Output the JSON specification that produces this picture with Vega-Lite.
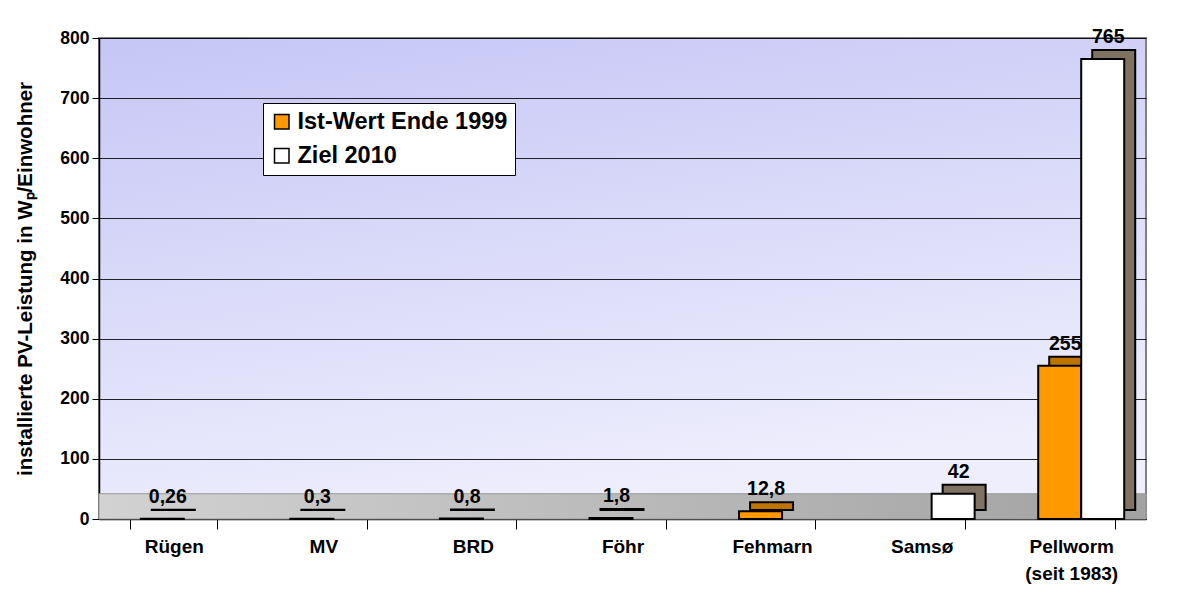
{
  "$schema": "https://vega.github.io/schema/vega-lite/v6.json",
  "width": 1047,
  "height": 481,
  "autosize": "none",
  "padding": {"left": 99, "top": 38, "right": 34, "bottom": 72},
  "background": "#ffffff",
  "config": {
    "font": "Liberation Sans",
    "view": {
      "stroke": "#808080",
      "strokeWidth": 2,
      "fill": {"gradient": "linear", "x1": 0, "y1": 0, "x2": 0.3, "y2": 1, "stops": [{"offset": 0, "color": "#c6c6f6"}, {"offset": 1, "color": "#eeeefd"}]}
    },
    "axisX": {
      "labelAngle": 0, "labelFont": "Liberation Sans", "labelFontSize": 19, "labelFontWeight": "bold",
      "labelColor": "#000", "labelLineHeight": 27,
      "tickBand": "extent", "tickSize": 10, "tickColor": "#000", "labelPadding": 8,
      "domainColor": "#000", "domainWidth": 1.5, "grid": false
    },
    "axisY": {
      "labelFont": "Liberation Sans", "labelFontSize": 17.5, "labelFontWeight": "bold", "labelColor": "#000",
      "titleFont": "Liberation Sans", "titleFontSize": 20.5, "titleFontWeight": "bold", "titleColor": "#000",
      "titlePadding": 24, "tickSize": 7, "tickColor": "#000", "labelPadding": 3,
      "domainColor": "#000", "domainWidth": 1.5,
      "grid": true, "gridColor": "#000", "gridWidth": 1, "gridOpacity": 0.85
    }
  },
  "datasets": {
    "pv": [
      {"ort": "Rügen", "series": "Ist-Wert Ende 1999", "wert": 0.26, "label": "0,26"},
      {"ort": "MV", "series": "Ist-Wert Ende 1999", "wert": 0.3, "label": "0,3"},
      {"ort": "BRD", "series": "Ist-Wert Ende 1999", "wert": 0.8, "label": "0,8"},
      {"ort": "Föhr", "series": "Ist-Wert Ende 1999", "wert": 1.8, "label": "1,8"},
      {"ort": "Fehmarn", "series": "Ist-Wert Ende 1999", "wert": 12.8, "label": "12,8"},
      {"ort": "Samsø", "series": "Ziel 2010", "wert": 42, "label": "42"},
      {"ort": "Pellworm|(seit 1983)", "series": "Ist-Wert Ende 1999", "wert": 255, "label": "255"},
      {"ort": "Pellworm|(seit 1983)", "series": "Ziel 2010", "wert": 765, "label": "765"}
    ],
    "floor": [{"part": "Boden"}]
  },
  "data": {"name": "pv"},
  "layer": [
    {
      "data": {"name": "floor"},
      "mark": {"type": "rect", "stroke": "#9a9a9a", "strokeWidth": 1,
        "fill": {"gradient": "linear", "x1": 0, "y1": 0, "x2": 1, "y2": 0, "stops": [{"offset": 0, "color": "#d2d2d2"}, {"offset": 1, "color": "#a2a2a2"}]}},
      "encoding": {
        "x": {"value": 0}, "x2": {"value": 1047},
        "y": {"datum": 0, "type": "quantitative", "scale": {"domain": [0, 800], "nice": false},
          "title": "installierte PV-Leistung in Wₚ/Einwohner",
          "axis": {"values": [0, 100, 200, 300, 400, 500, 600, 700, 800]}},
        "y2": {"datum": 42}
      }
    },
    {
      "transform": [{"filter": "datum.series == 'Ist-Wert Ende 1999'"}],
      "mark": {"type": "bar", "width": 43, "xOffset": -0.5, "yOffset": -9, "stroke": "#000", "strokeWidth": 2, "fill": "#c07400"},
      "encoding": {
        "x": {"field": "ort", "type": "nominal", "title": null,
          "sort": ["Rügen", "MV", "BRD", "Föhr", "Fehmarn", "Samsø", "Pellworm|(seit 1983)"],
          "scale": {"domain": ["Rügen", "MV", "BRD", "Föhr", "Fehmarn", "Samsø", "Pellworm|(seit 1983)"], "paddingInner": 0.42, "paddingOuter": 0.21},
          "axis": {"labelExpr": "datum.value ? split(datum.value, '|') : ''"}},
        "y": {"field": "wert", "type": "quantitative", "scale": {"domain": [0, 800], "nice": false}, "title": "installierte PV-Leistung in Wₚ/Einwohner"}
      }
    },
    {
      "transform": [{"filter": "datum.series == 'Ist-Wert Ende 1999'"}],
      "mark": {"type": "bar", "width": 43, "xOffset": -11.5, "stroke": "#000", "strokeWidth": 2},
      "encoding": {
        "x": {"field": "ort", "type": "nominal", "title": null, "sort": ["Rügen", "MV", "BRD", "Föhr", "Fehmarn", "Samsø", "Pellworm|(seit 1983)"]},
        "y": {"field": "wert", "type": "quantitative", "scale": {"domain": [0, 800], "nice": false}, "title": "installierte PV-Leistung in Wₚ/Einwohner"},
        "color": {
          "field": "series", "type": "nominal", "title": null,
          "scale": {"domain": ["Ist-Wert Ende 1999", "Ziel 2010"], "range": ["#ff9900", "#ffffff"]},
          "legend": {
            "orient": "none", "legendX": 164, "legendY": 65,
            "fillColor": "#ffffff", "strokeColor": "#000", "padding": 7,
            "symbolType": "square", "symbolSize": 210, "symbolStrokeColor": "#000", "symbolStrokeWidth": 1.5,
            "labelFont": "Liberation Sans", "labelFontSize": 23.5, "labelFontWeight": "bold", "labelColor": "#000",
            "rowPadding": 9, "labelOffset": 4, "labelLimit": 400
          }
        }
      }
    },
    {
      "transform": [{"filter": "datum.series == 'Ziel 2010'"}],
      "mark": {"type": "bar", "width": 43, "xOffset": 42.5, "yOffset": -9, "stroke": "#000", "strokeWidth": 2, "fill": "#7f7260"},
      "encoding": {
        "x": {"field": "ort", "type": "nominal", "title": null, "sort": ["Rügen", "MV", "BRD", "Föhr", "Fehmarn", "Samsø", "Pellworm|(seit 1983)"]},
        "y": {"field": "wert", "type": "quantitative", "scale": {"domain": [0, 800], "nice": false}, "title": "installierte PV-Leistung in Wₚ/Einwohner"}
      }
    },
    {
      "transform": [{"filter": "datum.series == 'Ziel 2010'"}],
      "mark": {"type": "bar", "width": 43, "xOffset": 31.5, "stroke": "#000", "strokeWidth": 2},
      "encoding": {
        "x": {"field": "ort", "type": "nominal", "title": null, "sort": ["Rügen", "MV", "BRD", "Föhr", "Fehmarn", "Samsø", "Pellworm|(seit 1983)"]},
        "y": {"field": "wert", "type": "quantitative", "scale": {"domain": [0, 800], "nice": false}, "title": "installierte PV-Leistung in Wₚ/Einwohner"},
        "color": {"field": "series", "type": "nominal"}
      }
    },
    {
      "transform": [{"filter": "datum.series == 'Ist-Wert Ende 1999'"}],
      "mark": {"type": "text", "xOffset": -6, "dy": -12, "font": "Liberation Sans", "fontSize": 19.5, "fontWeight": "bold", "fill": "#000", "baseline": "bottom"},
      "encoding": {
        "x": {"field": "ort", "type": "nominal", "title": null, "sort": ["Rügen", "MV", "BRD", "Föhr", "Fehmarn", "Samsø", "Pellworm|(seit 1983)"]},
        "y": {"field": "wert", "type": "quantitative", "scale": {"domain": [0, 800], "nice": false}, "title": "installierte PV-Leistung in Wₚ/Einwohner"},
        "text": {"field": "label"}
      }
    },
    {
      "transform": [{"filter": "datum.series == 'Ziel 2010'"}],
      "mark": {"type": "text", "xOffset": 37, "dy": -12, "font": "Liberation Sans", "fontSize": 19.5, "fontWeight": "bold", "fill": "#000", "baseline": "bottom"},
      "encoding": {
        "x": {"field": "ort", "type": "nominal", "title": null, "sort": ["Rügen", "MV", "BRD", "Föhr", "Fehmarn", "Samsø", "Pellworm|(seit 1983)"]},
        "y": {"field": "wert", "type": "quantitative", "scale": {"domain": [0, 800], "nice": false}, "title": "installierte PV-Leistung in Wₚ/Einwohner"},
        "text": {"field": "label"}
      }
    }
  ]
}
